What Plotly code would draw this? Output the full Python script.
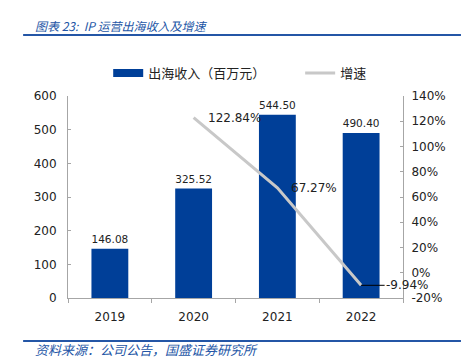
import plotly.graph_objects as go

years = ["2019", "2020", "2021", "2022"]
revenue = [146.08, 325.52, 544.50, 490.40]
growth_years = ["2020", "2021", "2022"]
growth = [122.84, 67.27, -9.94]
left_ticks = [0, 100, 200, 300, 400, 500, 600]
right_ticks = [-20, 0, 20, 40, 60, 80, 100, 120, 140]

BLUE = "#003f98"
GRAY = "#c8c8c8"
TITLE_BLUE = "#2456a6"
FONT = "DejaVu Sans"
CJK = "Noto Sans CJK SC"

fig = go.Figure()
fig.add_trace(go.Bar(
    x=years, y=revenue, marker=dict(color=BLUE, line=dict(width=0)),
    width=0.44, text=[f"{v:.2f}" for v in revenue], textposition="outside",
    textfont=dict(family=FONT, size=12, color="#222"), cliponaxis=False,
    showlegend=False, name="出海收入（百万元）"))
fig.add_trace(go.Scatter(
    x=years[:1], y=[None], mode="lines", line=dict(color=BLUE, width=8),
    name="出海收入（百万元）", hoverinfo="skip", legend="legend"))
fig.add_trace(go.Scatter(
    x=growth_years, y=growth, mode="lines", line=dict(color=GRAY, width=3),
    yaxis="y2", name="增速", legend="legend2"))

for yr, g in zip(growth_years, growth):
    xi = years.index(yr)
    if g < 0:
        fig.add_annotation(x=xi, y=g, xref="x", yref="y2", text=f"{g:.2f}%",
                           showarrow=True, arrowhead=0, arrowwidth=1, arrowcolor="black",
                           ax=46, ay=0, xanchor="center", standoff=0,
                           font=dict(family=FONT, size=12, color="#222"))
    else:
        fig.add_annotation(x=xi, y=g, xref="x", yref="y2", text=f"{g:.2f}%",
                           showarrow=False, xanchor="left", xshift=12,
                           font=dict(family=FONT, size=12, color="#222"))

fig.add_annotation(xref="paper", yref="paper", x=-0.105, y=1.351, xanchor="left",
                   yanchor="middle", showarrow=False,
                   text="<i>图表 23:  IP 运营出海收入及增速</i>",
                   font=dict(family=CJK, size=12, color=TITLE_BLUE))
fig.add_annotation(xref="paper", yref="paper", x=-0.105, y=-0.257, xanchor="left",
                   yanchor="middle", showarrow=False,
                   text="<i>资料来源：公司公告，国盛证券研究所</i>",
                   font=dict(family=CJK, size=13, color=TITLE_BLUE))
fig.add_shape(type="line", xref="paper", yref="paper", x0=-0.134, x1=1.173,
              y0=1.302, y1=1.302, line=dict(color=TITLE_BLUE, width=2))
fig.add_shape(type="line", xref="paper", yref="paper", x0=-0.134, x1=1.173,
              y0=-0.213, y1=-0.213, line=dict(color=TITLE_BLUE, width=2))

legend_common = dict(orientation="h", yanchor="middle", y=1.114, xanchor="left",
                     font=dict(family=CJK, size=13, color="#222"), itemwidth=30,
                     bgcolor="rgba(0,0,0,0)")

fig.update_layout(
    width=462, height=355,
    margin=dict(l=60, r=67, t=88, b=65),
    plot_bgcolor="white", paper_bgcolor="white",
    font=dict(family=FONT, size=12, color="#222"),
    legend=dict(x=0.12, **legend_common),
    legend2=dict(x=0.693, **legend_common),
    xaxis=dict(type="category", categoryorder="array", categoryarray=years,
               range=[-0.5, 3.5], showline=True, linecolor="#a6a6a6", linewidth=1,
               ticks="outside", tickson="boundaries", ticklen=4, tickcolor="#a6a6a6",
               showgrid=False, tickfont=dict(family=FONT, size=12), ticklabelstandoff=8),
    yaxis=dict(range=[0, 600], tickvals=left_ticks, showline=True, linecolor="#a6a6a6",
               ticks="inside", ticklen=3, tickcolor="#a6a6a6", showgrid=False,
               zeroline=False, tickfont=dict(family=FONT, size=12), ticklabelstandoff=8),
    yaxis2=dict(range=[-20, 140], tickvals=right_ticks,
                ticktext=[f"{t}%" for t in right_ticks], overlaying="y", side="right",
                showline=True, linecolor="#a6a6a6", ticks="inside", ticklen=3,
                tickcolor="#a6a6a6", showgrid=False, zeroline=False,
                tickfont=dict(family=FONT, size=12), ticklabelstandoff=5),
)

fig.write_html("out.html")
